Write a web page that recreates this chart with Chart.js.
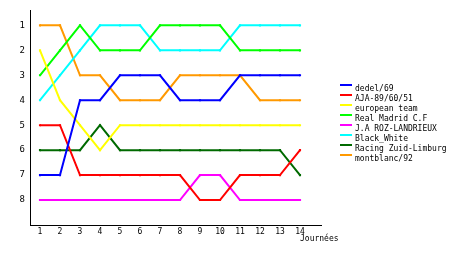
<!DOCTYPE html>
<html>
<head>
<meta charset="utf-8">
<script src="https://cdn.jsdelivr.net/npm/chart.js@4/dist/chart.umd.min.js"></script>
<style>
  html, body { margin: 0; padding: 0; background: #fff; }
  #wrap { position: relative; width: 460px; height: 255px; }
</style>
</head>
<body>
<div id="wrap"><canvas id="chart" width="460" height="255"></canvas></div>
<script>
// ── Data ──────────────────────────────────────────────────────
const journees = [1, 2, 3, 4, 5, 6, 7, 8, 9, 10, 11, 12, 13, 14];
const rangs    = [1, 2, 3, 4, 5, 6, 7, 8];

const teams   = ['dedel/69', 'AJA-89/60/51', 'european team', 'Real Madrid C.F',
                 'J.A ROZ-LANDRIEUX', 'Black_White', 'Racing Zuid-Limburg', 'montblanc/92'];
const colors  = ['#0000ff', '#ff0000', '#ffff00', '#00ff00',
                 '#ff00ff', '#00ffff', '#006a00', '#ff9900'];

const dedel     = [7, 7, 4, 4, 3, 3, 3, 4, 4, 4, 3, 3, 3, 3];
const aja       = [5, 5, 7, 7, 7, 7, 7, 7, 8, 8, 7, 7, 7, 6];
const european  = [2, 4, 5, 6, 5, 5, 5, 5, 5, 5, 5, 5, 5, 5];
const realMad   = [3, 2, 1, 2, 2, 2, 1, 1, 1, 1, 2, 2, 2, 2];
const jaRoz     = [8, 8, 8, 8, 8, 8, 8, 8, 7, 7, 8, 8, 8, 8];
const blackWh   = [4, 3, 2, 1, 1, 1, 2, 2, 2, 2, 1, 1, 1, 1];
const racing    = [6, 6, 6, 5, 6, 6, 6, 6, 6, 6, 6, 6, 6, 7];
const montblanc = [1, 1, 3, 3, 4, 4, 4, 3, 3, 3, 3, 4, 4, 4];

const series = [dedel, aja, european, realMad, jaRoz, blackWh, racing, montblanc];

const FONT = '"DejaVu Sans Mono", monospace';

// ── Legend + axis caption drawn on the canvas ────────────────
const extras = {
  id: 'extras',
  afterDraw(chart) {
    const ctx = chart.ctx;
    ctx.save();
    ctx.font = '8px ' + FONT;
    ctx.textBaseline = 'middle';
    ctx.fillStyle = '#000';
    teams.forEach((t, i) => {
      const y = 89 + i * 10;
      ctx.fillStyle = colors[i];
      ctx.fillRect(340, y - 5, 12, 2);
      ctx.fillStyle = '#000';
      ctx.fillText(t, 355, y);
    });
    ctx.fillText('Journées', 300, 239);
    ctx.restore();
  }
};

new Chart(document.getElementById('chart'), {
  type: 'line',
  data: {
    datasets: series.map((s, i) => ({
      label: teams[i],
      data: s.map((v, j) => ({ x: journees[j], y: v })),
      borderColor: colors[i],
      backgroundColor: colors[i],
      borderWidth: 2,
      pointStyle: 'rect',
      pointRadius: 1.5,
      pointBorderWidth: 0,
      tension: 0
    }))
  },
  options: {
    responsive: false,
    animation: false,
    layout: { padding: { left: 0, right: 139, top: 10, bottom: 0 } },
    plugins: { legend: { display: false }, tooltip: { enabled: false } },
    scales: {
      x: {
        type: 'linear',
        min: 0.5,
        max: 15.05,
        afterBuildTicks: ax => { ax.ticks = journees.map(v => ({ value: v })); },
        afterFit: ax => { ax.height = 30; },
        grid: { display: false, drawTicks: false },
        border: { color: '#000', width: 1 },
        ticks: { color: '#000', font: { family: FONT, size: 8 }, padding: 2, maxRotation: 0 }
      },
      y: {
        type: 'linear',
        reverse: true,
        min: 0.4,
        max: 9,
        afterBuildTicks: ax => { ax.ticks = rangs.map(v => ({ value: v })); },
        afterFit: ax => { ax.width = 30; },
        grid: { display: false, drawTicks: false },
        border: { color: '#000', width: 1 },
        ticks: { color: '#000', font: { family: FONT, size: 9 }, padding: 5 }
      }
    }
  },
  plugins: [extras]
});
</script>
</body>
</html>
